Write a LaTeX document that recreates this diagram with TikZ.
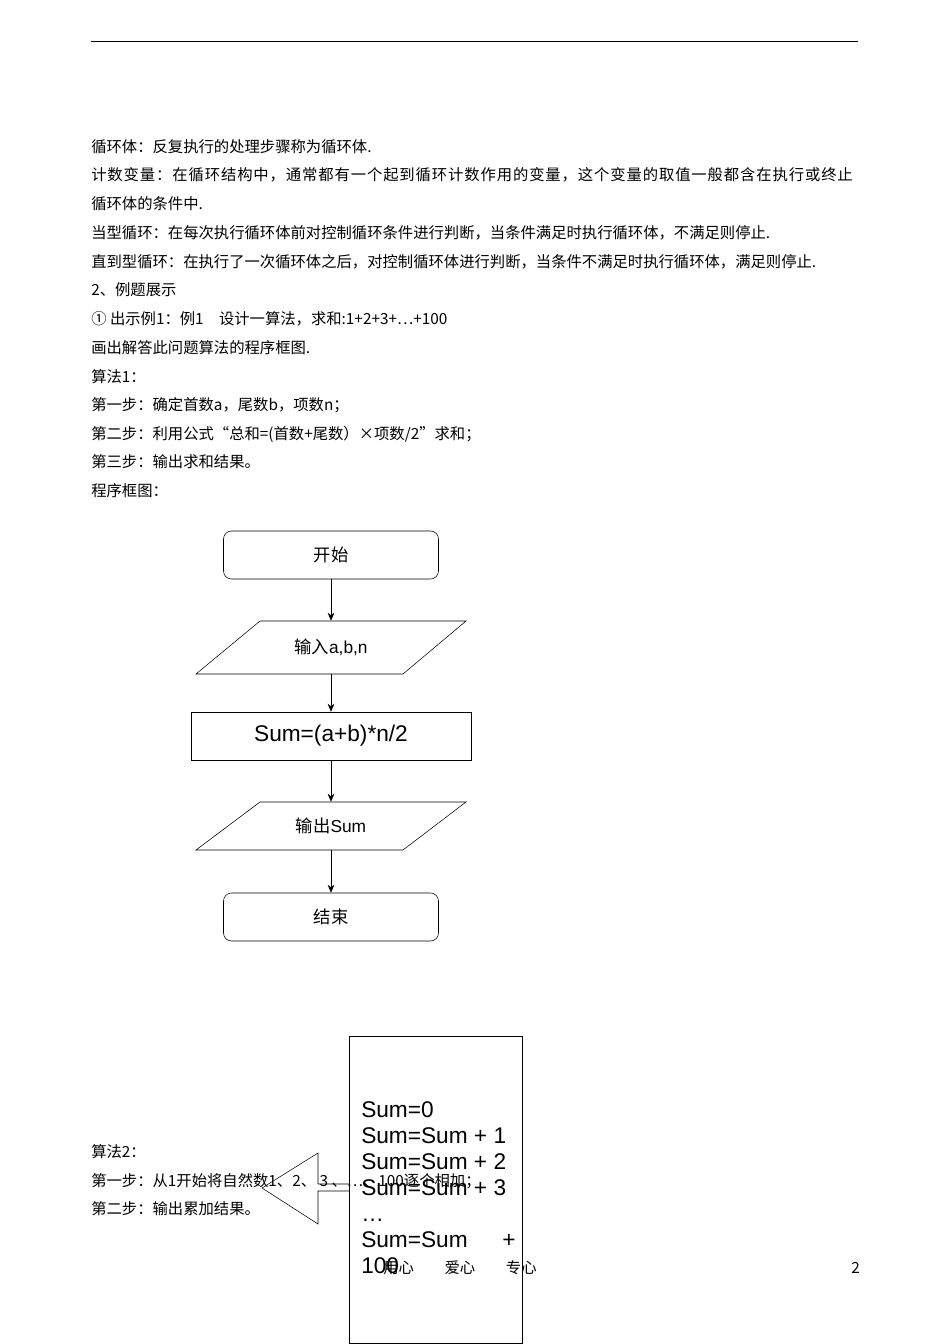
\documentclass[tikz,border=0pt]{standalone}
\usepackage{fontspec}
\setmainfont{Liberation Serif}
\newfontfamily\cjk{Noto Sans CJK SC}
\newfontfamily\lsans{Liberation Sans}
\usetikzlibrary{arrows.meta}
\begin{document}
\begin{tikzpicture}[x=0.75pt,y=-0.75pt,
 txt/.style={anchor=west,inner sep=0,font=\cjk\fontsize{11.5}{12}\selectfont},
 rbox/.style={draw,rounded corners=6pt,minimum width=161.25pt,minimum height=36pt,font=\cjk\fontsize{13}{14}\selectfont},
 lbl/.style={font=\lsans\fontsize{13}{14}\selectfont},
 arr/.style={-{Stealth[length=6pt,width=5pt]},thin}]
\useasboundingbox (0,0) rectangle (950,1344);
\draw[thin] (91,41) -- (858,41);
\node[txt] at (91,147) {循环体：反复执行的处理步骤称为循环体.};
\node[txt] at (91,175) {\addfontfeature{LetterSpace=5.8}计数变量：在循环结构中，通常都有一个起到循环计数作用的变量，这个变量的取值一般都含在执行或终止};
\node[txt] at (91,204) {循环体的条件中.};
\node[txt] at (91,233) {当型循环：在每次执行循环体前对控制循环条件进行判断，当条件满足时执行循环体，不满足则停止.};
\node[txt] at (91,262) {直到型循环：在执行了一次循环体之后，对控制循环体进行判断，当条件不满足时执行循环体，满足则停止.};
\node[txt] at (91,290) {2、例题展示};
\node[txt] at (91,319) {① 出示例1：例1\quad 设计一算法，求和:1+2+3+…+100};
\node[txt] at (91,348) {画出解答此问题算法的程序框图.};
\node[txt] at (91,377) {算法1：};
\node[txt] at (91,405) {第一步：确定首数a，尾数b，项数n；};
\node[txt] at (91,434) {第二步：利用公式“总和=(首数+尾数）×项数/2”求和；};
\node[txt] at (91,462) {第三步：输出求和结果。};
\node[txt] at (91,491) {程序框图：};
% flowchart
\node[rbox] (start) at (331,555) {开始};
\draw (260,621) -- (466,621) -- (403,674) -- (196,674) -- cycle;
\node[lbl,minimum height=39.75pt] (in) at (331,647.5) {{\cjk 输入}a,b,n};
\node[draw,minimum width=210pt,minimum height=36pt,font=\lsans\fontsize{17}{18}\selectfont] (sum) at (331,736) {Sum=(a+b)*n/2};
\draw (260,802) -- (466,802) -- (403,850) -- (196,850) -- cycle;
\node[lbl,minimum height=36pt] (out) at (331,826) {{\cjk 输出}Sum};
\node[rbox] (end) at (331,917) {结束};
\draw[arr] (start) -- (in);
\draw[arr] (in) -- (sum);
\draw[arr] (sum) -- (out);
\draw[arr] (out) -- (end);
% algorithm 2
\node[txt] at (91,1152) {算法2：};
\node[txt] at (91,1181) {第一步：从1开始将自然数1、2、 3 、…、100逐个相加；};
\node[txt] at (91,1209) {第二步：输出累加结果。};
\node[txt] at (383,1268) {用心\quad\quad 爱心\quad\quad 专心};
\node[txt] at (851,1268) {2};
\draw (349,1184) -- (318,1184) -- (318,1153) -- (262,1188) -- (318,1224) -- (318,1191) -- (349,1191);
\node[draw,minimum width=129.75pt,minimum height=230.25pt] (box) at (435.5,1189.5) {};
\node[anchor=north west,align=left,inner sep=0,font=\lsans\fontsize{17}{19.5}\selectfont] (code) at (361,1101) {Sum=0\\Sum=Sum + 1\\Sum=Sum + 2\\Sum=Sum + 3\\…\\Sum=Sum\hspace{26pt}+\\100};
\end{tikzpicture}
\end{document}
